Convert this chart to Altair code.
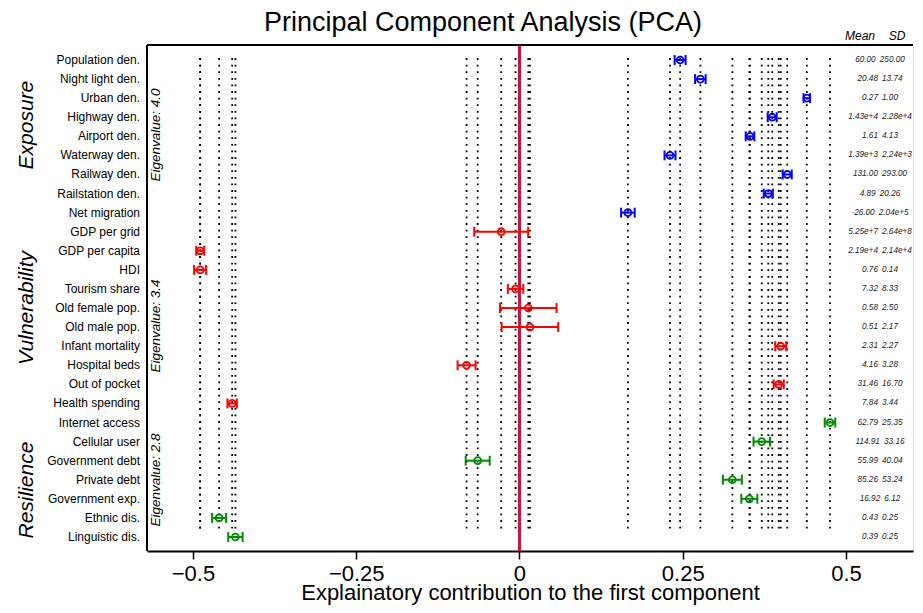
import altair as alt
import pandas as pd

variables = [
    "Population den.", "Night light den.", "Urban den.", "Highway den.", "Airport den.",
    "Waterway den.", "Railway den.", "Railstation den.", "Net migration",
    "GDP per grid", "GDP per capita", "HDI", "Tourism share", "Old female pop.",
    "Old male pop.", "Infant mortality", "Hospital beds", "Out of pocket", "Health spending",
    "Internet access", "Cellular user", "Government debt", "Private debt",
    "Government exp.", "Ethnic dis.", "Linguistic dis.",
]
groups = ["Exposure"] * 9 + ["Vulnerability"] * 10 + ["Resilience"] * 7
loadings = [
    0.246, 0.277, 0.440, 0.387, 0.353, 0.2305, 0.410, 0.381, 0.166,
    -0.028, -0.489, -0.489, -0.006, 0.0135, 0.016, 0.400, -0.081, 0.397, -0.440,
    0.4755, 0.371, -0.064, 0.326, 0.352, -0.460, -0.435,
]
half_widths = [
    0.0084, 0.0081, 0.0050, 0.0069, 0.0066, 0.0084, 0.0069, 0.0069, 0.0104,
    0.0413, 0.0061, 0.0092, 0.0118, 0.0433, 0.0433, 0.0084, 0.0138, 0.0077, 0.0072,
    0.0081, 0.0126, 0.0184, 0.0145, 0.0123, 0.0107, 0.0110,
]
means = [
    "60.00", "20.48", "0.27", "1.43e+4", "1.61", "1.39e+3", "131.00", "4.89", "-26.00",
    "5.25e+7", "2.19e+4", "0.76", "7.32", "0.58", "0.51", "2.31", "4.16", "31.46", "7.84",
    "62.79", "114.91", "55.99", "85.26", "16.92", "0.43", "0.39",
]
sds = [
    "250.00", "13.74", "1.00", "2.28e+4", "4.13", "2.24e+3", "293.00", "20.26", "2.04e+5",
    "2.64e+8", "2.14e+4", "0.14", "8.33", "2.50", "2.17", "2.27", "3.28", "16.70", "3.44",
    "25.35", "33.16", "40.04", "53.24", "6.12", "0.25", "0.25",
]
group_names = ["Exposure", "Vulnerability", "Resilience"]
group_colors = ["#0000FF", "#FF0000", "#008B00"]
eigenvalues = ["4.0", "3.4", "2.8"]
x_ticks = [-0.5, -0.25, 0, 0.25, 0.5]
title_text = "Principal Component Analysis (PCA)"
x_title = "Explainatory contribution to the first component"

FONT = "Liberation Sans"
W, H = 766, 506
X_DOM = [-0.5704, 0.6026]
Y_DOM = [-0.786, 25.734]

df = pd.DataFrame({
    "variable": variables,
    "group": groups,
    "loading": loadings,
    "hw": half_widths,
    "mean": means,
    "sd": sds,
})
df["row"] = list(range(len(df)))
df["lo"] = df["loading"] - df["hw"]
df["hi"] = df["loading"] + df["hw"]
df["stats"] = df["mean"] + "\u2002" + df["sd"]
df["cap_top"] = df["row"] - 0.26
df["cap_bot"] = df["row"] + 0.26
df["line_top"] = -0.1
df["line_bot"] = 24.74
df["zero"] = 0.0

# label placement rows (text annotation anchors)
grp_df = pd.DataFrame({
    "group": group_names,
    "eig": ["Eigenvalue: " + e for e in eigenvalues],
    "name_row": [3.41, 13.0, 22.54],
    "eig_row": [3.93, 13.94, 22.01],
})

xs = alt.Scale(domain=X_DOM, nice=False, zero=False)
ys = alt.Scale(domain=Y_DOM, reverse=True, nice=False, zero=False)
col = alt.Color("group:N", scale=alt.Scale(domain=group_names, range=group_colors), legend=None)

x_axis = alt.Axis(
    values=x_ticks, title=x_title, grid=False, tickSize=8, tickWidth=1.5,
    tickColor="black", domainColor="black", domainWidth=2,
    labelFontSize=22, labelColor="black", labelFont=FONT, labelPadding=4,
    labelExpr="(datum.value < 0 ? '\u2212' : '') + format(abs(datum.value), '~g')",
    titleFontSize=22, titleFont=FONT, titleColor="black", titleFontWeight="normal",
    titleY=48, titleBaseline="alphabetic",
)


def X(field):
    return alt.X(field, scale=xs, axis=x_axis, title=x_title)


def Y(field):
    return alt.Y(field, scale=ys, axis=None)


base = alt.Chart(df)

dotted = base.mark_rule(color="black", strokeWidth=1.8, strokeDash=[1.8, 4.8]).encode(
    x=X("loading:Q"), y=Y("line_top:Q"), y2="line_bot:Q",
)

zero_line = base.mark_rule(color="#C8143C", strokeWidth=2).encode(
    x=X("zero:Q"),
)

bars = base.mark_rule(strokeWidth=2).encode(
    x=X("lo:Q"), x2="hi:Q", y=Y("row:Q"), color=col,
)
caps_lo = base.mark_rule(strokeWidth=2).encode(
    x=X("lo:Q"), y=Y("cap_top:Q"), y2="cap_bot:Q", color=col,
)
caps_hi = base.mark_rule(strokeWidth=2).encode(
    x=X("hi:Q"), y=Y("cap_top:Q"), y2="cap_bot:Q", color=col,
)
points = base.mark_point(shape="circle", filled=False, size=48, strokeWidth=1.8, opacity=1).encode(
    x=X("loading:Q"), y=Y("row:Q"), color=col,
)

row_labels = base.mark_text(align="right", baseline="middle", fontSize=12, font=FONT, color="black").encode(
    x=alt.value(-7), y=Y("row:Q"), text="variable:N",
)
stats = base.mark_text(align="center", baseline="middle", fontSize=8.2, font=FONT,
                       fontStyle="italic", color="#222222").encode(
    x=alt.value(733), y=Y("row:Q"), text="stats:N",
)

grp = alt.Chart(grp_df)
group_labels = grp.mark_text(angle=270, align="center", baseline="middle", fontSize=21,
                             font=FONT, fontStyle="italic", color="black").encode(
    x=alt.value(-120), y=Y("name_row:Q"), text="group:N",
)
eig_labels = grp.mark_text(angle=270, align="center", baseline="middle", fontSize=13.5,
                           font=FONT, fontStyle="italic", color="black").encode(
    x=alt.value(8.5), y=Y("eig_row:Q"), text="eig:N",
)

hdr = alt.Chart(pd.DataFrame({"h": ["Mean", "SD"], "px": [713, 750]}))
header = hdr.mark_text(align="center", baseline="middle", fontSize=12, font=FONT,
                       fontStyle="italic", color="black").encode(
    x=alt.X("px:Q", scale=None), y=alt.value(-9), text="h:N",
)

ttl = alt.Chart(pd.DataFrame({"t": [title_text]}))
title = ttl.mark_text(align="center", baseline="alphabetic", fontSize=27, font=FONT, color="black").encode(
    x=alt.value(336), y=alt.value(-14), text="t:N",
)

frame_top = ttl.mark_rule(color="black", strokeWidth=2).encode(
    x=alt.value(0), x2=alt.value(W), y=alt.value(0),
)
frame_left = ttl.mark_rule(color="black", strokeWidth=2).encode(
    x=alt.value(0), y=alt.value(0), y2=alt.value(H),
)

chart = alt.layer(
    dotted, zero_line, bars, caps_lo, caps_hi, points,
    row_labels, stats, group_labels, eig_labels, header, title, frame_top, frame_left,
).properties(
    width=W, height=H,
    autosize=alt.AutoSizeParams(type="none"),
    padding={"left": 139, "top": 37, "right": 2, "bottom": 54},
).configure_view(stroke=None).configure(font=FONT)

chart.save("out.html", embed_options={"renderer": "svg", "actions": False})
